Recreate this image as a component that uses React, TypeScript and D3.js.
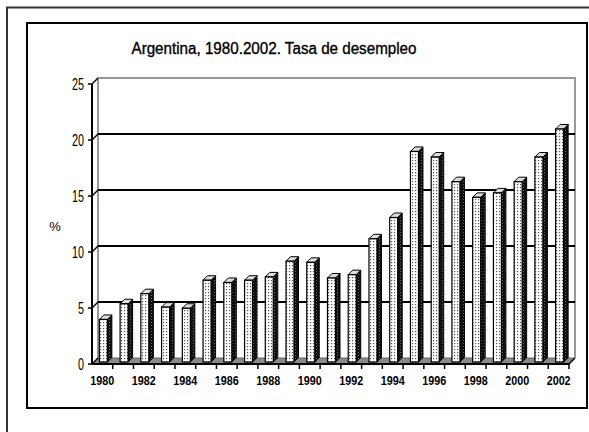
import React from "react";
import * as d3 from "d3";

const years = d3.range(1980, 2003).map(String);
const values = [3.8, 5.2, 6.1, 4.9, 4.8, 7.3, 7.1, 7.3, 7.6, 9.0, 8.9, 7.5, 7.8, 11.0, 12.9, 18.8, 18.3, 16.1, 14.7, 15.1, 16.1, 18.3, 20.8];
const yTicks = [0, 5, 10, 15, 20, 25];
const xLabels = years.filter((_, i) => i % 2 === 0);
const title = "Argentina, 1980.2002. Tasa de desempleo";

export default function App() {
  const W = 589, H = 432;
  const x = d3.scaleBand().domain(years).range([92, 569]).padding(0);
  const y = d3.scaleLinear().domain([0, 25]).range([364, 84]);
  const DX = 6, DY = -6; // back wall offset
  const bx = 2, by = -2; // bar face offset
  const bw = 8, bd = 4.5; // bar face width, depth
  const font = "Arial, 'Liberation Sans', sans-serif";
  const y0 = y(0);
  return (
    <svg width={W} height={H} style={{ position: "absolute", left: 0, top: 0, background: "#fff" }}>
      <defs>
        <pattern id="dots" width="3" height="3" patternUnits="userSpaceOnUse">
          <rect width="3" height="3" fill="#fff" />
          <rect x="1" y="1" width="1.2" height="1.2" fill="#555" />
        </pattern>
        <pattern id="dotsDark" width="3" height="3" patternUnits="userSpaceOnUse">
          <rect width="3" height="3" fill="#111" />
          <rect x="1" y="1" width="1" height="1" fill="#666" />
        </pattern>
      </defs>
      {/* outer frame */}
      <rect x={7} y={7.5} width={640} height={500} fill="none" stroke="#333" strokeWidth={2} />
      {/* inner box */}
      <rect x={27} y={23} width={560} height={385} fill="#fff" stroke="#000" strokeWidth={2} />
      <text x={274} y={54} textAnchor="middle" fontFamily={font} fontSize={16} stroke="#000" strokeWidth={0.35} textLength={285} lengthAdjust="spacingAndGlyphs">{title}</text>
      {/* floor */}
      <polygon
        points={`${x.range()[0]},${y0} ${x.range()[1]},${y0} ${x.range()[1] + DX},${y0 + DY} ${x.range()[0] + DX},${y0 + DY}`}
        fill="#8a8a8a"
        stroke="#666"
        strokeWidth={1}
      />
      {/* back wall border */}
      <path
        d={`M${92 + DX},${y0 + DY} V${y(25) + DY} H${569 + DX} V${y0 + DY}`}
        fill="none"
        stroke="#999"
        strokeWidth={2}
      />
      {/* gridlines */}
      {yTicks.filter(t => t > 0 && t < 25).map(t => (
        <line key={t} x1={92 + DX} x2={569 + DX} y1={y(t) + DY} y2={y(t) + DY} stroke="#000" strokeWidth={2} />
      ))}
      {/* bars */}
      {values.map((v, i) => {
        const xl = (x(years[i]) as number) + x.bandwidth() / 2 - bw / 2 - 1 + bx;
        const yt = y(v) + by;
        const yb = y0 + by;
        return (
          <g key={i}>
            <polygon
              points={`${xl + bw},${yt} ${xl + bw + bd},${yt - bd} ${xl + bw + bd},${yb - bd} ${xl + bw},${yb}`}
              fill="url(#dotsDark)"
              stroke="#000"
              strokeWidth={1}
            />
            <polygon
              points={`${xl},${yt} ${xl + bd},${yt - bd} ${xl + bw + bd},${yt - bd} ${xl + bw},${yt}`}
              fill="#ddd"
              stroke="#000"
              strokeWidth={1}
            />
            <rect x={xl} y={yt} width={bw} height={yb - yt} fill="url(#dots)" stroke="#000" strokeWidth={1.2} />
          </g>
        );
      })}
      {/* y axis */}
      <line x1={92} x2={92} y1={y(25)} y2={y0} stroke="#000" strokeWidth={2} />
      {yTicks.map(t => (
        <g key={t}>
          <line x1={88} x2={92} y1={y(t)} y2={y(t)} stroke="#000" strokeWidth={1.5} />
          <line x1={92} x2={92 + DX} y1={y(t)} y2={y(t) + DY} stroke="#000" strokeWidth={1.5} />
          <text x={84} y={y(t) + 6} textAnchor="end" fontFamily={font} fontSize={17} textLength={t >= 10 ? 12 : 6} lengthAdjust="spacingAndGlyphs">{t}</text>
        </g>
      ))}
      <text x={55} y={231} textAnchor="middle" fontFamily={font} fontSize={13}>%</text>
      {/* x axis */}
      <line x1={92} x2={569} y1={y0} y2={y0} stroke="#000" strokeWidth={2} />
      <line x1={569} x2={569 + DX} y1={y0} y2={y0 + DY} stroke="#000" strokeWidth={1.5} />
      {years.map((yr) => (
        <line key={yr} x1={(x(yr) as number) + x.bandwidth()} x2={(x(yr) as number) + x.bandwidth()} y1={y0} y2={y0 + 5} stroke="#000" strokeWidth={1.5} />
      ))}
      {xLabels.map(yr => (
        <text key={yr} x={(x(yr) as number) + x.bandwidth() / 2} y={385} textAnchor="middle" fontFamily={font} fontSize={13} fontWeight="bold" textLength={24} lengthAdjust="spacingAndGlyphs">{yr}</text>
      ))}
    </svg>
  );
}
